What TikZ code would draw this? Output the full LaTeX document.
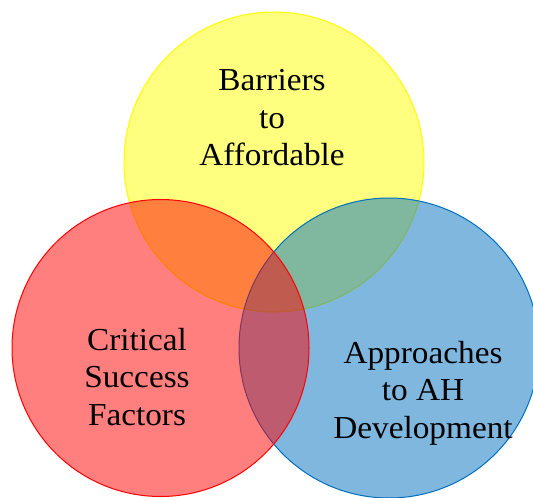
\documentclass[tikz,border=0pt]{standalone}
\usepackage{fontspec}
\setmainfont{Liberation Serif}[FakeStretch=1.04]
\begin{document}
\begin{tikzpicture}[x=1pt,y=-1pt,
  setcircle/.style={line width=1pt, fill opacity=0.5, draw opacity=1},
  setlabel/.style={align=center, inner sep=0pt, font=\fontsize{32}{37.5}\selectfont}]
\useasboundingbox (0,0) rectangle (533,498);
\definecolor{vyellow}{HTML}{FFFF00}
\definecolor{vred}{HTML}{FF0000}
\definecolor{vblue}{HTML}{0070C0}
\fill[white] (0,0) rectangle (533,498);
\begin{scope}
\clip (0,0) rectangle (533,498);
\draw[setcircle, draw=vyellow, fill=vyellow] (274,162) circle[radius=150];
\draw[setcircle, draw=vblue, fill=vblue] (389,348) circle[radius=150];
\draw[setcircle, draw=vred, fill=vred] (160.5,348) circle[radius=148.5];
\end{scope}
\node[setlabel] (barriers) at (272,118) {Barriers\\to\\Affordable};
\node[setlabel] (critical) at (137,377) {Critical\\Success\\Factors};
\node[setlabel] (approaches) at (423,393) {Approaches\\to AH\\Development};
\end{tikzpicture}
\end{document}
